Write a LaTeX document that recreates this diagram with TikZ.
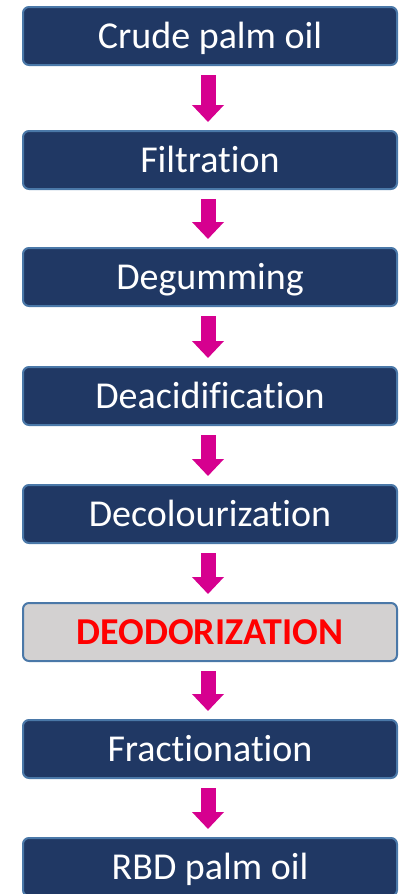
\documentclass[tikz,border=0pt]{standalone}
\usepackage{fontspec}
\setmainfont[Ligatures=NoCommon]{Carlito}
\usepackage{xcolor}
\usetikzlibrary{arrows.meta,positioning}
\definecolor{navy}{HTML}{203864}
\definecolor{edgeblue}{HTML}{4A78A8}
\definecolor{hotpink}{HTML}{D6008F}
\definecolor{lightgray}{HTML}{D3D1D1}

\begin{document}
\begin{tikzpicture}[x=1pt,y=-1pt,
 step box/.style={draw=edgeblue,line width=2pt,fill=navy,rounded corners=6pt,
   minimum width=374pt,minimum height=58pt,inner sep=0pt,text=white,
   text height=31pt,text depth=7pt,font=\fontsize{38}{42}\selectfont},
 key box/.style={step box,fill=lightgray,text=red,font=\fontsize{38}{42}\selectfont\bfseries},
 flow/.style={-{Triangle[width=31pt,length=17pt]},line width=15pt,draw=hotpink,
   shorten <=9pt,shorten >=8pt}]
\useasboundingbox (0,0) rectangle (401,894);
\node[step box] (crude) at (210,36) {Crude palm oil};
\node[step box] (filt) at (210,160) {Filtration};
\node[step box] (degum) at (210,277) {Degumming};
\node[step box] (deacid) at (210,396) {Deacidification};
\node[step box] (decol) at (210,514) {Decolourization};
\node[key box] (deodor) at (210,632) {DEODORIZATION};
\node[step box] (fract) at (210,749) {Fractionation};
\node[step box] (rbd) at (210,867) {RBD palm oil};
\draw[flow] ([xshift=-2pt]crude.south)--([xshift=-2pt]filt.north);
\draw[flow] ([xshift=-2pt]filt.south)--([xshift=-2pt]degum.north);
\draw[flow] ([xshift=-2pt]degum.south)--([xshift=-2pt]deacid.north);
\draw[flow] ([xshift=-2pt]deacid.south)--([xshift=-2pt]decol.north);
\draw[flow] ([xshift=-2pt]decol.south)--([xshift=-2pt]deodor.north);
\draw[flow] ([xshift=-2pt]deodor.south)--([xshift=-2pt]fract.north);
\draw[flow] ([xshift=-2pt]fract.south)--([xshift=-2pt]rbd.north);
\end{tikzpicture}
\end{document}
